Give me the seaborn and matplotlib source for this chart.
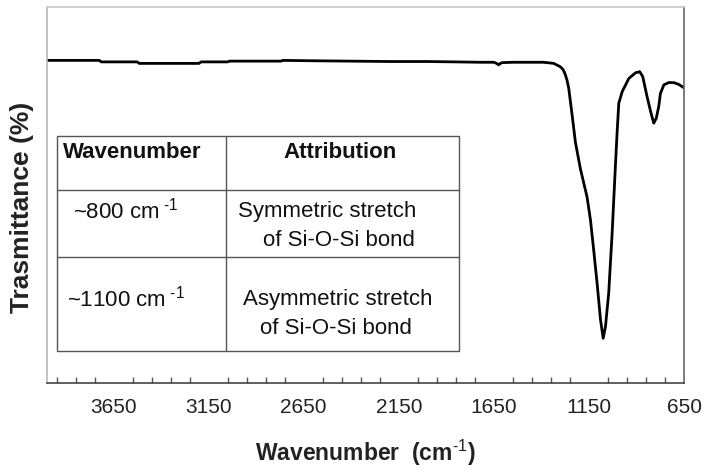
import matplotlib
matplotlib.use("Agg")
import matplotlib.pyplot as plt
from matplotlib.ticker import MultipleLocator, FixedLocator, NullLocator
from matplotlib.patches import Rectangle
import seaborn as sns
import pandas as pd

# ---------------- data ----------------
wavenumber = [4000, 3900, 3800, 3725, 3715, 3600, 3525, 3515, 3400, 3300, 3200, 3190,
              3100, 3050, 3040, 2900, 2770, 2760, 2600, 2400, 2200, 2000, 1850, 1721,
              1651, 1635, 1625, 1615, 1607, 1550, 1450, 1388, 1335, 1300, 1285, 1274,
              1265, 1256, 1239, 1221, 1195, 1160, 1142, 1125, 1107, 1089, 1075, 1063,
              1046, 1028, 1011, 1002, 993, 975, 940, 905, 883, 867, 844, 823, 809, 796,
              783, 774, 756, 730, 704, 677, 650]
transmittance = [85.8, 85.8, 85.8, 85.8, 85.4, 85.4, 85.4, 85.0, 85.0, 85.0, 85.0, 85.4,
                 85.4, 85.4, 85.6, 85.6, 85.6, 85.8, 85.7, 85.6, 85.5, 85.5, 85.4, 85.3,
                 85.3, 85.0, 84.6, 85.0, 85.2, 85.3, 85.3, 85.3, 85.0, 84.1, 83.3, 82.0,
                 80.5, 78.3, 71.5, 64.0, 57.0, 49.5, 43.4, 35.4, 26.5, 16.8, 11.9, 15.0,
                 23.9, 39.8, 57.5, 66.4, 74.4, 77.5, 81.0, 82.5, 82.8, 81.5, 76.1, 71.7,
                 69.1, 70.4, 73.5, 77.0, 79.3, 79.9, 79.9, 79.4, 78.5]
tick_values = [3650, 3150, 2650, 2150, 1650, 1150, 650]
tick_labels = ["3650", "3150", "2650", "2150", "1650", "1150", "650"]

table_header = ["Wavenumber", "Attribution"]
table_wavenumbers = [r"~800 cm$^{\text{ -1}}$", r"~1100 cm$^{\text{ -1}}$"]
table_attr_line1 = ["Symmetric stretch", "Asymmetric stretch"]
table_attr_line2 = ["of Si-O-Si bond", "of Si-O-Si bond"]

df = pd.DataFrame({"Wavenumber": wavenumber, "Transmittance": transmittance})

# ---------------- style ----------------
sns.set_style("white")
plt.rcParams["font.family"] = ["Liberation Sans", "DejaVu Sans"]
plt.rcParams["mathtext.fontset"] = "custom"
plt.rcParams["mathtext.rm"] = "Liberation Sans"
plt.rcParams["mathtext.bf"] = "Liberation Sans:bold"

fig = plt.figure(figsize=(7.04, 4.70), dpi=100)
W, H = 704, 470
L, R, T, B = 47, 684, 7, 383
ax = fig.add_axes([L / W, 1 - B / H, (R - L) / W, (B - T) / H])

sns.lineplot(data=df, x="Wavenumber", y="Transmittance", ax=ax, color="black",
             linewidth=2.0, estimator=None, sort=False)

ax.set_xlim(4000, 650)
ax.set_ylim(0, 100)
ax.xaxis.set_major_locator(FixedLocator(tick_values))
ax.set_xticklabels(tick_labels, fontsize=15)
ax.xaxis.set_minor_locator(MultipleLocator(100, offset=50))
ax.yaxis.set_major_locator(NullLocator())
ax.tick_params(axis="x", which="major", direction="out", length=7, width=1,
               color="#555555", pad=4, labelcolor="#222222")
ax.tick_params(axis="x", which="minor", direction="in", length=4, width=1,
               color="#555555", bottom=True)

for side, col in [("top", "#c8c8c8"), ("left", "#b8b8b8"),
                  ("right", "#666666"), ("bottom", "#444444")]:
    ax.spines[side].set_visible(True)
    ax.spines[side].set_color(col)
    ax.spines[side].set_linewidth(1.2)

ax.set_xlabel(r"Wavenumber  (cm$^{\text{-1}}$)", fontsize=16.5,
              fontweight="bold", color="#222222")
ax.set_ylabel("Trasmittance (%)", fontsize=19, fontweight="bold", color="#222222")
ax.xaxis.set_label_coords(0.5, (B - 453) / (B - T))
ax.yaxis.set_label_coords((22 - L) / (R - L), (B - 207) / (B - T))
ax.xaxis.label.set_va("center")
ax.yaxis.label.set_va("center")


def fx(x):
    return (x - L) / (R - L)


def fy(y):
    return (B - y) / (B - T)


# ---------------- table ----------------
tl, tr, tt, tb = 57, 459, 136, 351
row_lines = [190, 257]
col_line = 226
lc = "#555555"
ax.add_patch(Rectangle((fx(tl), fy(tb)), fx(tr) - fx(tl), fy(tt) - fy(tb),
                       transform=ax.transAxes, facecolor="white", edgecolor=lc,
                       linewidth=1.0, zorder=3))
for yy in row_lines:
    ax.plot([fx(tl), fx(tr)], [fy(yy), fy(yy)], transform=ax.transAxes,
            color=lc, linewidth=1.0, zorder=4)
ax.plot([fx(col_line), fx(col_line)], [fy(tt), fy(tb)], transform=ax.transAxes,
        color=lc, linewidth=1.0, zorder=4)

fs = 16
ax.text(fx(63), fy(153), table_header[0], transform=ax.transAxes, fontsize=fs,
        fontweight="bold", ha="left", va="center", zorder=5, color="#111111")
ax.text(fx(340), fy(153), table_header[1], transform=ax.transAxes, fontsize=fs,
        fontweight="bold", ha="center", va="center", zorder=5, color="#111111")

wn_x = [73, 67]
row_y1 = [211, 299]
row_y2 = [240, 328]
l1_x = [238, 243]
l2_x = [263, 260]
for i in range(2):
    ax.text(fx(wn_x[i]), fy(row_y1[i]), table_wavenumbers[i], transform=ax.transAxes,
            fontsize=fs, ha="left", va="center", zorder=5, color="#111111")
    ax.text(fx(l1_x[i]), fy(row_y1[i]), table_attr_line1[i], transform=ax.transAxes,
            fontsize=fs, ha="left", va="center", zorder=5, color="#111111")
    ax.text(fx(l2_x[i]), fy(row_y2[i]), table_attr_line2[i], transform=ax.transAxes,
            fontsize=fs, ha="left", va="center", zorder=5, color="#111111")

fig.savefig("out.png", dpi=100)
